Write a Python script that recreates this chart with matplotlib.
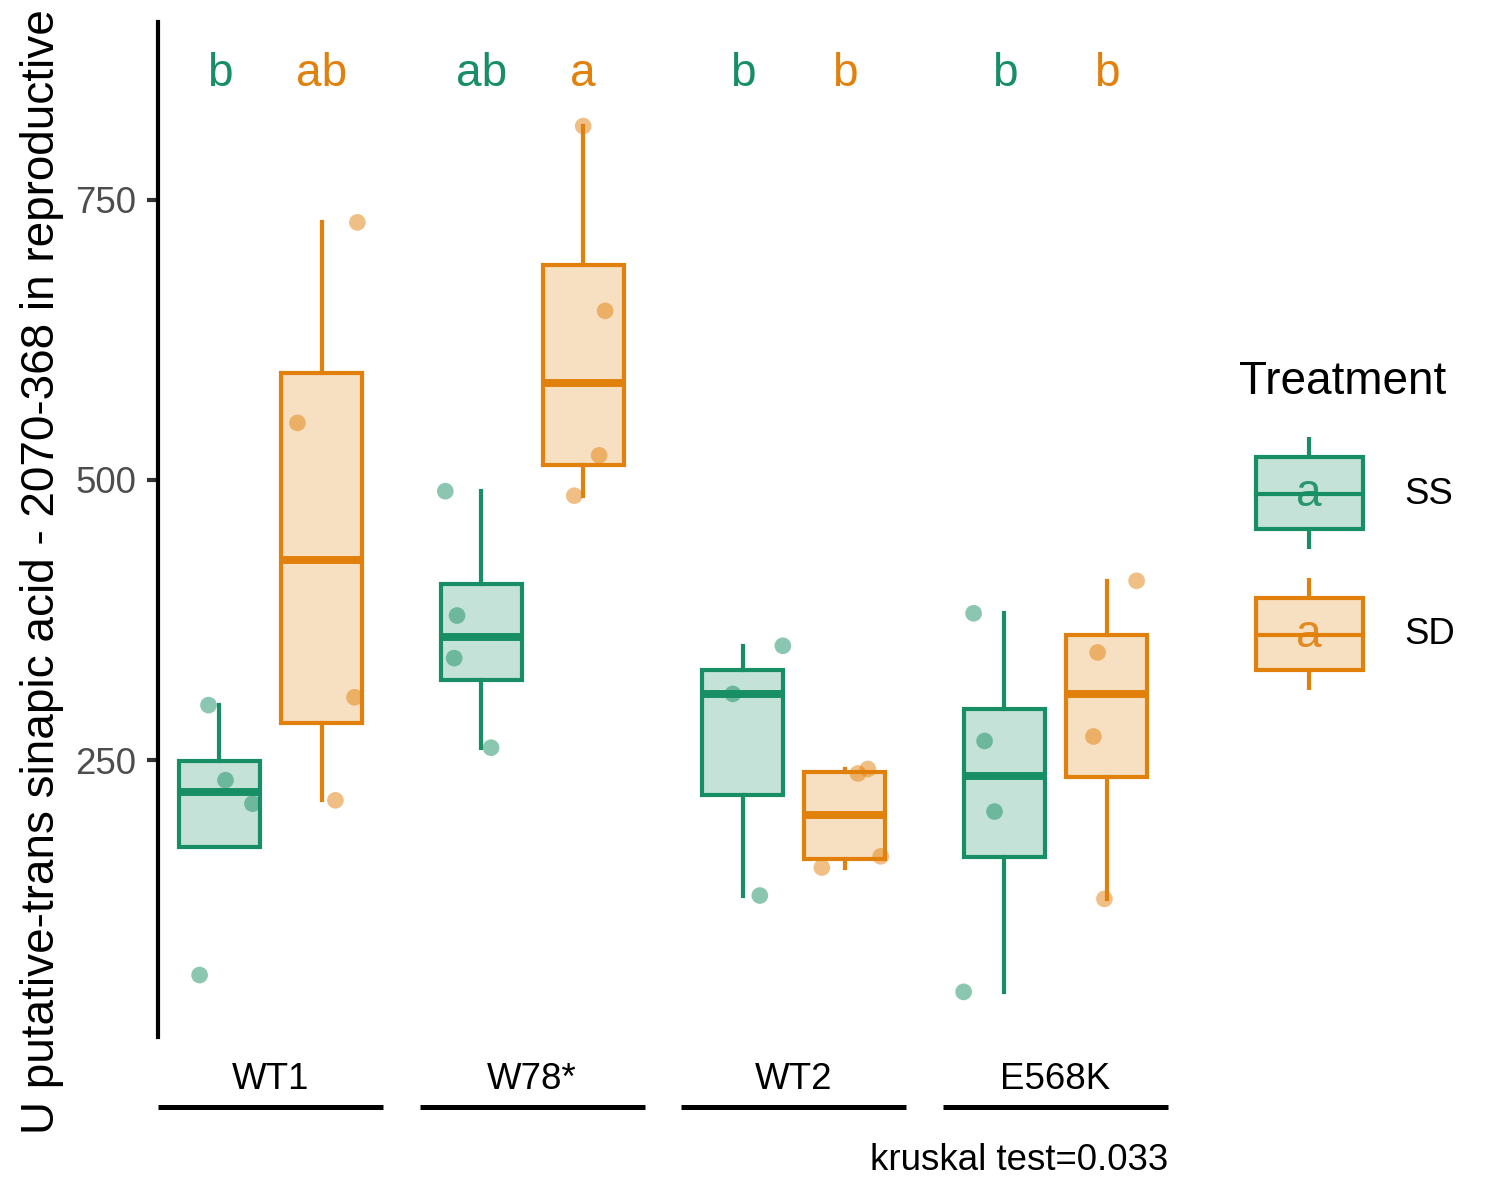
import matplotlib
matplotlib.use("Agg")
import matplotlib.pyplot as plt
import matplotlib.transforms as mtransforms
from matplotlib.patches import Rectangle

plt.rcParams['font.family'] = ['Liberation Sans', 'DejaVu Sans']

genotypes = ['WT1', 'W78*', 'WT2', 'E568K']
treatments = ['SS', 'SD']

ss_values = [
    [299, 232, 211, 58],
    [490, 379, 341, 261],
    [352, 309, 129],
    [381, 267, 204, 43],
]
sd_values = [
    [551, 306, 214, 730],
    [816, 651, 522, 486],
    [242, 238, 154, 164],
    [410, 346, 271, 126],
]
# horizontal jitter of each point (category units)
ss_jitter = [
    [-0.042, 0.023, 0.126, -0.076],
    [-0.137, -0.092, -0.103, 0.038],
    [0.153, -0.038, 0.065],
    [-0.118, -0.076, -0.038, -0.156],
]
sd_jitter = [
    [-0.092, 0.126, 0.053, 0.137],
    [0.0, 0.084, 0.061, -0.034],
    [0.088, 0.050, -0.088, 0.137],
    [0.115, -0.034, -0.050, -0.008],
]
ss_letters = ['b', 'ab', 'b', 'b']
sd_letters = ['ab', 'a', 'b', 'b']
letter_y = 852
kruskal_p = 0.033
ylabel = 'U putative-trans sinapic acid - 2070-368 in reproductive'

colors = {'SS': '#178E63', 'SD': '#E2800C'}
dodge = 0.195
box_w = 0.31

fig = plt.figure(figsize=(5, 4), dpi=300)
ax = fig.add_axes([158/1500, 1 - 1037/1200, (1168-158)/1500, (1037-22)/1200])

centers = list(range(1, len(genotypes) + 1))
groups = [('SS', ss_values, ss_jitter, ss_letters, -dodge),
          ('SD', sd_values, sd_jitter, sd_letters, dodge)]

for name, vals, jit, letters, off in groups:
    col = colors[name]
    pos = [c + off for c in centers]
    ax.boxplot(vals, positions=pos, widths=box_w, patch_artist=True,
               showfliers=False, showcaps=False, manage_ticks=False,
               boxprops=dict(facecolor=matplotlib.colors.to_rgba(col, 0.25), edgecolor=col, linewidth=1.0),
               whiskerprops=dict(color=col, linewidth=1.0),
               medianprops=dict(color=col, linewidth=1.9, solid_capstyle='butt'))
    for p, v, j in zip(pos, vals, jit):
        ax.scatter([p + d for d in j], v, s=16, color=col, alpha=0.5,
                   edgecolors='none', zorder=4)
    for p, t in zip(pos, letters):
        ax.text(p, letter_y, t, color=col, fontsize=11, ha='center', va='baseline')

ax.set_xlim(0.57, 4.43)
ax.set_ylim(2.7, 908.9)
ax.set_yticks([250, 500, 750])
ax.set_xticks(centers)
ax.set_xticklabels(genotypes)
ax.tick_params(axis='y', length=2.6, width=1.0, color='#333333',
               labelsize=8.8, labelcolor='#4D4D4D', pad=2.6)
ax.tick_params(axis='x', length=0, labelsize=8.8, labelcolor='black', pad=6)
for s in ['top', 'right', 'bottom']:
    ax.spines[s].set_visible(False)
ax.spines['left'].set_linewidth(1.0)

# group underlines below the labels
trans = mtransforms.blended_transform_factory(ax.transData, ax.transAxes)
for c in centers:
    ax.plot([c - 0.43, c + 0.43], [-0.069, -0.069], color='black', lw=1.2,
            transform=trans, clip_on=False, solid_capstyle='butt')

fig.text(1168/1500, 1 - 1170/1200, f'kruskal test={kruskal_p}', ha='right',
         va='baseline', fontsize=8.8)
fig.text(42/1500, 1 - 572/1200, ylabel, rotation=90, ha='center', va='center',
         fontsize=11)

# legend drawn in pixel coordinates
lg = fig.add_axes([0, 0, 1, 1])
lg.set_xlim(0, 1500)
lg.set_ylim(1200, 0)
lg.axis('off')
lg.patch.set_alpha(0)
lg.text(1239, 394, 'Treatment', fontsize=11, ha='left', va='baseline')
for k, name in enumerate(treatments):
    col = colors[name]
    top = 457 + k * 141
    lg.add_patch(Rectangle((1256, top), 107, 72, facecolor=matplotlib.colors.to_rgba(col, 0.25),
                           edgecolor=col, linewidth=1.0))
    lg.plot([1256, 1363], [top + 37, top + 37], color=col, lw=1.0)
    lg.plot([1309, 1309], [top - 20, top], color=col, lw=1.0, solid_capstyle='butt')
    lg.plot([1309, 1309], [top + 72, top + 92], color=col, lw=1.0, solid_capstyle='butt')
    lg.text(1309, top + 37, 'a', color=col, fontsize=11, ha='center', va='center', alpha=0.9)
    lg.text(1404, top + 37, name, fontsize=8.8, ha='left', va='center')

fig.savefig('out.png', dpi=300)
